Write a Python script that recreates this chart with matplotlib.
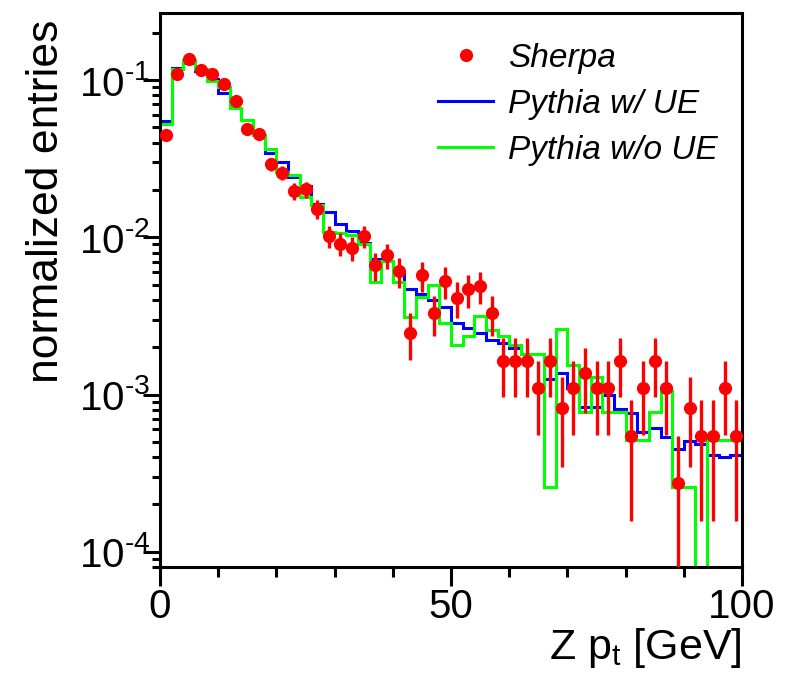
import numpy as np
import matplotlib
matplotlib.use("Agg")
from matplotlib import pyplot as plt
from matplotlib.lines import Line2D
from matplotlib.ticker import FixedLocator, FuncFormatter, LogLocator, NullFormatter

plt.rcParams["font.family"] = ["Liberation Sans", "DejaVu Sans"]
plt.rcParams["mathtext.fontset"] = "custom"
plt.rcParams["mathtext.rm"] = "Liberation Sans"
plt.rcParams["mathtext.it"] = "Liberation Sans:italic"

# Z pt binning, 2 GeV wide
bin_edges = np.arange(0, 101, 2)

# Sherpa (points) and its statistical errors
sherpa = [
    0.0447, 0.110, 0.136, 0.116, 0.110, 0.0943, 0.0738, 0.0488, 0.0455, 0.0293,
    0.0258, 0.0197, 0.0202, 0.0152, 0.0102, 0.00912, 0.00855, 0.0102, 0.00664, 0.00768,
    0.00607, 0.00247, 0.00573, 0.00331, 0.00527, 0.00413, 0.00467, 0.00490, 0.00331, 0.00163,
    0.00163, 0.00163, 0.00110, 0.00163, 0.000818, 0.00110, 0.00137, 0.00110, 0.00110, 0.00163,
    0.000542, 0.00110, 0.00163, 0.00110, 0.000272, 0.000818, 0.000542, 0.000542, 0.00110, 0.000542,
]
sherpa_err = [
    0.00348, 0.00547, 0.00608, 0.00561, 0.00547, 0.00507, 0.00448, 0.00364, 0.00352, 0.00283,
    0.00265, 0.00231, 0.00234, 0.00204, 0.00165, 0.00156, 0.00151, 0.00165, 0.00133, 0.00144,
    0.00128, 0.000816, 0.00125, 0.000942, 0.00119, 0.00105, 0.00112, 0.00115, 0.000942, 0.000666,
    0.000666, 0.000666, 0.000544, 0.000666, 0.000471, 0.000544, 0.000608, 0.000544, 0.000544, 0.000666,
    0.000385, 0.000544, 0.000666, 0.000544, 0.000272, 0.000471, 0.000385, 0.000385, 0.000544, 0.000385,
]

# Pythia with underlying event
pythia_ue = [
    0.0550, 0.120, 0.128, 0.115, 0.101, 0.0822, 0.0660, 0.0556, 0.0447, 0.0344,
    0.0303, 0.0242, 0.0212, 0.0164, 0.0145, 0.0121, 0.0110, 0.00924, 0.00731, 0.00708,
    0.00587, 0.00471, 0.00433, 0.00401, 0.00360, 0.00284, 0.00266, 0.00246, 0.00221, 0.00213,
    0.00197, 0.00180, 0.00180, 0.00126, 0.00137, 0.00110, 0.000839, 0.000839, 0.000986, 0.000811,
    0.000760, 0.000575, 0.000610, 0.000534, 0.000451, 0.000509, 0.000485, 0.000415, 0.000403, 0.000415,
]

# Pythia without underlying event
pythia_noue = [
    0.0525, 0.118, 0.135, 0.118, 0.099, 0.0907, 0.0660, 0.0556, 0.0447, 0.0366,
    0.0261, 0.0248, 0.0181, 0.0160, 0.0108, 0.0107, 0.0103, 0.0091, 0.00519, 0.00708,
    0.00519, 0.00310, 0.00417, 0.00494, 0.00284, 0.00208, 0.00234, 0.00314, 0.00258, 0.00235,
    0.00207, 0.00181, 0.00181, 0.000257, 0.00262, 0.00155, 0.000771, 0.00129, 0.000771, 0.000771,
    0.000514, 0.000514, 0.000771, 0.00105, 0.000257, 0.000257, 0.0, 0.000514, 0.000514, 0.000514,
]

labels = ["Sherpa", "Pythia w/ UE", "Pythia w/o UE"]

YMIN, YMAX = 8e-5, 0.267
RED, BLUE, GREEN = "#ff0000", "#0000ff", "#00ff00"


def root_hist(axis, values, color):
    """Draw a ROOT-like outline histogram, empty bins sit on the frame"""
    vals = np.asarray(values)
    vals = np.where(vals > 0, vals, YMIN)
    axis.stairs(vals, bin_edges, baseline=None, color=color, lw=2.2)


def decade_label(val, _pos):
    # short hyphen in the exponent, like ROOT does
    exp = int(round(np.log10(val)))
    sign = "\u2010" if exp < 0 else ""
    return r"$\mathregular{10^{%s%d}}$" % (sign, abs(exp))


fig = plt.figure(figsize=(7.91, 6.73), dpi=100)
ax = fig.add_axes([160 / 791, 1 - 567 / 673, 582 / 791, 554 / 673])
ax.set_yscale("log")

root_hist(ax, pythia_ue, BLUE)
root_hist(ax, pythia_noue, GREEN)

centers = (bin_edges[:-1] + bin_edges[1:]) / 2
ax.errorbar(centers, sherpa, yerr=sherpa_err, fmt="o", color=RED, ms=9.5,
            mew=0, elinewidth=2.4, capsize=0, zorder=5)

ax.set_xlim(0, 100)
ax.set_ylim(YMIN, YMAX)

for spine in ax.spines.values():
    spine.set_linewidth(2.2)

ax.xaxis.set_major_locator(FixedLocator([0, 50, 100]))
ax.xaxis.set_minor_locator(FixedLocator([10, 20, 30, 40, 60, 70, 80, 90]))
ax.yaxis.set_major_locator(LogLocator(base=10))
ax.yaxis.set_minor_locator(LogLocator(base=10, subs=np.arange(2, 10)))
ax.yaxis.set_major_formatter(FuncFormatter(decade_label))
ax.yaxis.set_minor_formatter(NullFormatter())

ax.tick_params(axis="x", which="major", direction="out", length=14, width=2.2,
               labelsize=29, pad=1)
ax.tick_params(axis="x", which="minor", direction="out", length=7, width=2.2)
ax.tick_params(axis="y", which="major", direction="out", length=12, width=2.2,
               labelsize=29, pad=-5)
ax.tick_params(axis="y", which="minor", direction="out", length=6, width=2.2)

ax.set_xlabel(r"Z p$_\mathregular{t}$ [GeV]", fontsize=31, loc="right", labelpad=0)
ax.set_ylabel("normalized entries", fontsize=32, loc="top")
ax.yaxis.set_label_coords(-0.16, 0.988)

handles = [
    Line2D([], [], ls="none", marker="o", color=RED, ms=9.5, mew=0),
    Line2D([], [], color=BLUE, lw=2.2),
    Line2D([], [], color=GREEN, lw=2.2),
]
ax.legend(handles, labels, loc="upper left", bbox_to_anchor=(0.4777, 0.946),
          frameon=False, prop={"style": "italic", "size": 24},
          handlelength=1.65, handletextpad=0.45, labelspacing=0.45,
          borderpad=0, borderaxespad=0)

fig.savefig("out.png", dpi=100)
